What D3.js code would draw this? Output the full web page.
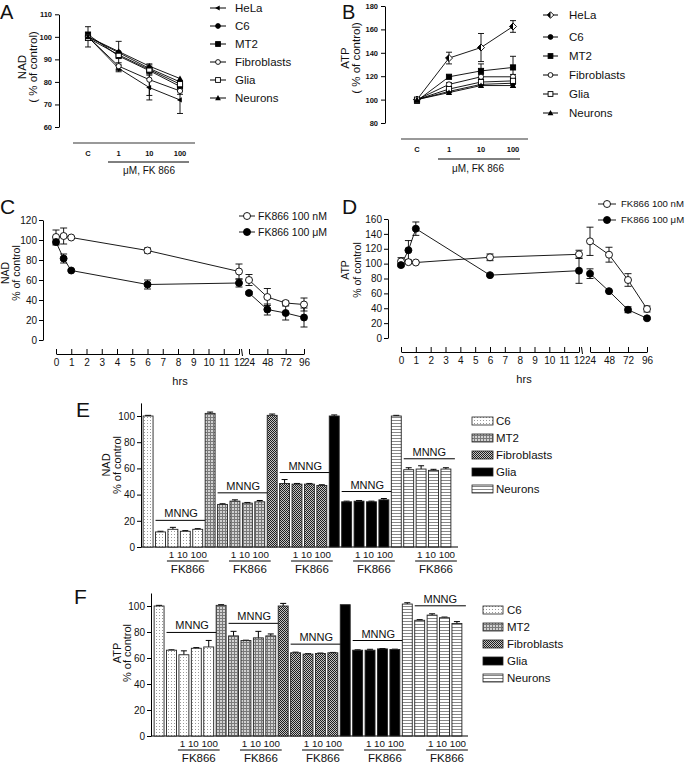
<!DOCTYPE html>
<html>
<head>
<meta charset="utf-8">
<script src="https://cdn.jsdelivr.net/npm/d3@7"></script>
<style>
body { margin: 0; background: #fff; }
text { font-family: "Liberation Sans", Arial, sans-serif; fill: #111; }
</style>
</head>
<body>
<svg id="fig" width="685" height="779"></svg>
<script>
// ---- data ----
const doseLabels = ["C", "1", "10", "100"];
const doseSeries = ["HeLa", "C6", "MT2", "Fibroblasts", "Glia", "Neurons"];
const nadDoseValues = [
    [100, 86, 77.5, 72],
    [100, 93, 86, 80],
    [101, 91.5, 85, 78],
    [100, 87, 81, 76],
    [99.5, 92, 85.5, 79],
    [100, 93.5, 87, 81.5]
];
const nadDoseErrors = [
    [4.5, 1.5, 5.5, 6],
    [1, 1, 1.5, 1],
    [1, 6.5, 1.5, 2],
    [1, 1.5, 7, 1.5],
    [1, 1, 1, 1],
    [1, 1, 1, 1]
];
const atpDoseValues = [
    [100, 135.5, 144.5, 162.5],
    [100, 107, 113, 114],
    [99, 119.5, 124.5, 127.5],
    [100, 113, 119.5, 119.5],
    [100, 109, 115, 116],
    [100, 106, 112, 112]
];
const atpDoseErrors = [
    [1, 5, 12, 5],
    [1, 1, 1, 1],
    [1, 1, 6, 9.5],
    [1, 1.5, 2, 2],
    [1, 1, 1, 1.5],
    [1, 1, 1, 1.5]
];
const nadDoseTicks = [60, 70, 80, 90, 100, 110];
const atpDoseTicks = [80, 100, 120, 140, 160, 180];

const timeHours = [0, 0.5, 1, 6, 12, 24, 48, 72, 96];
const timeTicksEarly = [0, 1, 2, 3, 4, 5, 6, 7, 8, 9, 10, 11, 12];
const timeTicksLate = [24, 48, 72, 96];
const timeSeries = ["FK866 100 nM", "FK866 100 μM"];
const nadTimeValues = [
    [103, 104, 102.5, 89.5, 68.5, 60, 43, 37, 35.5],
    [98, 81.5, 69.5, 55.5, 57, 47, 30.5, 27, 22.5]
];
const nadTimeErrors = [
    [7, 8, 1, 2.5, 7.5, 5.5, 8.5, 2, 6.5],
    [3, 4.5, 1, 4.5, 4, 1.5, 5.5, 7, 9.5]
];
const atpTimeValues = [
    [103, 102, 101.5, 108.5, 112.5, 130, 112, 78, 39],
    [98, 118, 147, 84.5, 90.5, 86.5, 63, 38, 26.5]
];
const atpTimeErrors = [
    [5, 1, 1, 4.5, 5.5, 19, 10, 8.5, 4],
    [2, 13, 9, 1.5, 17, 6.5, 1, 4, 1.5]
];
const nadTimeTicks = [0, 20, 40, 60, 80, 100, 120];
const atpTimeTicks = [0, 20, 40, 60, 80, 100, 120, 140, 160];

const barCells = ["C6", "MT2", "Fibroblasts", "Glia", "Neurons"];
const barDoseLabel = "1 10 100";
const nadBarValues = [
    [100, 11.5, 13.5, 12, 13.5],
    [102, 32.5, 35, 33.5, 34.5],
    [100.5, 48.5, 48, 48, 47],
    [100, 34.5, 35, 34.5, 36],
    [100, 59, 59.5, 58.5, 59.5]
];
const nadBarErrors = [
    [0.5, 0.5, 1.5, 0.5, 0.5],
    [1, 0.5, 1, 0.5, 1],
    [1, 3, 0.5, 0.5, 0.5],
    [0.8, 0.5, 0.5, 0.5, 1],
    [0.5, 1.5, 2.5, 0.8, 1]
];
const atpBarValues = [
    [100, 66, 62.5, 67.5, 68.5],
    [100.5, 77, 73.5, 75.5, 77],
    [100, 64, 63, 63.5, 64],
    [101, 66, 66, 67, 66.5],
    [101.5, 89, 93, 91, 86.5]
];
const atpBarErrors = [
    [0.5, 0.3, 3, 0.5, 5],
    [0.5, 3.5, 0.2, 5, 1.5],
    [2, 0.5, 0.3, 0.3, 0.3],
    [0, 0.3, 0.7, 0.3, 0.3],
    [1, 0.5, 1, 0.5, 1.5]
];
const barTicks = [0, 20, 40, 60, 80, 100];

// ---- setup ----
const svg = d3.select("#fig");
const defs = svg.append("defs");

function addPattern(id, w, h, bg, marks) {
    const p = defs.append("pattern").attr("id", id)
        .attr("patternUnits", "userSpaceOnUse")
        .attr("width", w).attr("height", h);
    p.append("rect").attr("width", w).attr("height", h).attr("fill", bg);
    marks.forEach(m => p.append("rect")
        .attr("x", m[0]).attr("y", m[1]).attr("width", m[2]).attr("height", m[3])
        .attr("fill", m[4]));
}
addPattern("pC6", 3, 3, "#fff", [[0, 0, 1, 1, "#9a9a9a"]]);
addPattern("pMT2", 3, 3, "#d2d2d2", [[0, 0, 3, 1, "#7a7a7a"], [0, 0, 1, 3, "#7a7a7a"]]);
addPattern("pFib", 2, 2, "#c4c4c4", [[0, 0, 1, 1, "#1e1e1e"], [1, 1, 1, 1, "#1e1e1e"]]);
addPattern("pNeu", 3, 3, "#fff", [[0, 0, 3, 1, "#888"]]);
const barFills = ["url(#pC6)", "url(#pMT2)", "url(#pFib)", "#000", "url(#pNeu)"];

function drawMarker(g, kind, cx, cy, s) {
    if (kind === "circle" || kind === "ocircle") {
        g.append("circle").attr("cx", cx).attr("cy", cy).attr("r", s)
            .attr("fill", kind === "circle" ? "#000" : "#fff")
            .attr("stroke", "#000").attr("stroke-width", 0.9);
    } else if (kind === "square" || kind === "osquare") {
        g.append("rect").attr("x", cx - s).attr("y", cy - s)
            .attr("width", 2 * s).attr("height", 2 * s)
            .attr("fill", kind === "square" ? "#000" : "#fff")
            .attr("stroke", "#000").attr("stroke-width", 0.9);
    } else if (kind === "triangle") {
        g.append("path")
            .attr("d", `M${cx},${cy - s * 1.2}L${cx + s * 1.2},${cy + s * 0.9}L${cx - s * 1.2},${cy + s * 0.9}Z`)
            .attr("fill", "#000");
    } else if (kind === "larrow") {
        g.append("path")
            .attr("d", `M${cx - s * 1.2},${cy}L${cx + s * 0.7},${cy - s}L${cx + s * 0.7},${cy + s}Z`)
            .attr("fill", "#000");
    } else if (kind === "hdiamond") {
        const d = s * 1.35;
        g.append("path").attr("d", `M${cx},${cy - d}L${cx + d},${cy}L${cx},${cy + d}L${cx - d},${cy}Z`)
            .attr("fill", "#fff").attr("stroke", "#000").attr("stroke-width", 0.9);
        g.append("path").attr("d", `M${cx},${cy - d}L${cx - d},${cy}L${cx},${cy + d}Z`)
            .attr("fill", "#000");
    }
}

function errBar(g, x, y1, y2, cap) {
    g.append("line").attr("x1", x).attr("x2", x).attr("y1", y1).attr("y2", y2)
        .attr("stroke", "#000").attr("stroke-width", 0.9);
    [y1, y2].forEach(yy => g.append("line")
        .attr("x1", x - cap).attr("x2", x + cap).attr("y1", yy).attr("y2", yy)
        .attr("stroke", "#000").attr("stroke-width", 0.9));
}

function yLabel(g, lab, t1, t2, size) {
    [[lab.x1, t1], [lab.x2, t2]].forEach(d => g.append("text")
        .attr("transform", `translate(${d[0]},${lab.cy}) rotate(-90)`)
        .attr("text-anchor", "middle").attr("dy", "0.35em")
        .attr("font-size", size).text(d[1]));
}

function letter(t, x, y, size) {
    svg.append("text").attr("x", x).attr("y", y).attr("font-size", size).text(t);
}

function styleAxis(a, size, bold) {
    a.attr("font-size", size);
    a.selectAll("path, line").attr("stroke", "#000").attr("stroke-width", 1);
    a.selectAll("text").attr("fill", "#111").attr("font-weight", bold ? "bold" : "normal");
}

// ---- panels A, B: dose response ----
function dosePanel(p) {
    const g = svg.append("g");
    const y = d3.scaleLinear().domain(p.yDomain).range(p.yRange);
    const x = d3.scalePoint().domain(doseLabels).range(p.xRange);

    const ya = g.append("g").attr("transform", `translate(${p.yAxisX},0)`)
        .call(d3.axisLeft(y).tickValues(p.yTicks).tickSize(4).tickSizeOuter(0).tickPadding(3));
    styleAxis(ya, 7.5, true);

    g.append("line").attr("x1", p.axisLine[0]).attr("x2", p.axisLine[1])
        .attr("y1", p.axisY).attr("y2", p.axisY)
        .attr("stroke", "#999").attr("stroke-width", 2);
    doseLabels.forEach(d => g.append("text").attr("x", x(d)).attr("y", p.axisY + 13)
        .attr("text-anchor", "middle").attr("font-size", 7.5).attr("font-weight", "bold").text(d));
    g.append("line").attr("x1", p.under[0]).attr("x2", p.under[1])
        .attr("y1", p.under[2]).attr("y2", p.under[2]).attr("stroke", "#000").attr("stroke-width", 1);
    g.append("text").attr("x", p.unit[0]).attr("y", p.unit[1]).attr("text-anchor", "middle")
        .attr("font-size", 10).text("μM, FK 866");

    const line = d3.line().x((v, i) => x(doseLabels[i])).y(v => y(v));
    p.values.forEach((vals, s) => {
        vals.forEach((v, i) => {
            const e = p.errors[s][i];
            if (e > 1.2) errBar(g, x(doseLabels[i]), y(v + e), y(v - e), 3);
        });
    });
    p.values.forEach(vals => g.append("path").attr("d", line(vals))
        .attr("fill", "none").attr("stroke", "#000").attr("stroke-width", 0.9));
    p.values.forEach((vals, s) => vals.forEach((v, i) =>
        drawMarker(g, p.marks[s], x(doseLabels[i]), y(v), 2.6)));

    // legend
    doseSeries.forEach((name, i) => {
        const ly = p.legend.y0 + i * p.legend.step + (i > 0 ? p.legend.shift : 0);
        g.append("line").attr("x1", p.legend.x0).attr("x2", p.legend.x1)
            .attr("y1", ly).attr("y2", ly).attr("stroke", "#000").attr("stroke-width", 1);
        drawMarker(g, p.marks[i], (p.legend.x0 + p.legend.x1) / 2, ly, 2.4);
        g.append("text").attr("x", p.legend.tx).attr("y", ly).attr("dy", "0.35em")
            .attr("font-size", 11.5).text(name);
    });
    yLabel(g, p.ylab, p.ylab.t1, "( % of control)", 11.5);
}

dosePanel({
    yDomain: [60, 110], yRange: [127, 14.3], yTicks: nadDoseTicks, yAxisX: 59,
    xRange: [88, 180], axisY: 143, axisLine: [73, 195], under: [108, 189, 162], unit: [149, 174],
    values: nadDoseValues, errors: nadDoseErrors,
    marks: ["larrow", "circle", "square", "ocircle", "osquare", "triangle"],
    legend: { x0: 210, x1: 226, tx: 235, y0: 8, step: 18, shift: 0 },
    ylab: { x1: 22, x2: 33, cy: 67, t1: "NAD" }
});
dosePanel({
    yDomain: [80, 180], yRange: [123, 6], yTicks: atpDoseTicks, yAxisX: 385,
    xRange: [417, 513], axisY: 139, axisLine: [401, 528], under: [438, 520, 159], unit: [478, 172],
    values: atpDoseValues, errors: atpDoseErrors,
    marks: ["hdiamond", "circle", "square", "ocircle", "osquare", "triangle"],
    legend: { x0: 543, x1: 558, tx: 569, y0: 15, step: 19, shift: 3 },
    ylab: { x1: 345, x2: 356, cy: 58, t1: "ATP" }
});
letter("A", 0, 19, 20);
letter("B", 342, 19, 20);

// ---- panels C, D: time course ----
function timePanel(p) {
    const g = svg.append("g");
    const y = d3.scaleLinear().domain([0, p.yMax]).range([p.y0, p.yTop]);
    const xe = d3.scaleLinear().domain([0, 12]).range([p.x0, p.x12]);
    const xl = d3.scaleLinear().domain([24, 96]).range([p.x24, p.x96]);
    const x = t => (t <= 12 ? xe(t) : xl(t));

    const ya = g.append("g").attr("transform", `translate(${p.yAxisX},0)`)
        .call(d3.axisLeft(y).tickValues(p.yTicks).tickSize(4).tickSizeOuter(0).tickPadding(2));
    styleAxis(ya, 10, false);

    const xa1 = g.append("g").attr("transform", `translate(0,${p.axisY})`)
        .call(d3.axisBottom(xe).tickValues(timeTicksEarly).tickSize(-5).tickSizeOuter(0).tickPadding(5));
    const xa2 = g.append("g").attr("transform", `translate(0,${p.axisY})`)
        .call(d3.axisBottom(xl).tickValues(timeTicksLate).tickSize(-5).tickSizeOuter(0).tickPadding(5));
    styleAxis(xa1, 10, false);
    styleAxis(xa2, 10, false);
    // break marks
    g.append("line").attr("x1", p.x12 + 2.5).attr("x2", p.x12 + 3.5)
        .attr("y1", p.axisY - 5).attr("y2", p.axisY + 2).attr("stroke", "#000");
    g.append("text").attr("x", (p.x0 + p.x96) / 2).attr("y", p.hrsY)
        .attr("text-anchor", "middle").attr("font-size", 11).text("hrs");

    const early = timeHours.map((t, i) => i).filter(i => timeHours[i] <= 12);
    const late = timeHours.map((t, i) => i).filter(i => timeHours[i] >= 24);
    p.values.forEach((vals, s) => {
        vals.forEach((v, i) => errBar(g, x(timeHours[i]), y(v + p.errors[s][i]), y(v - p.errors[s][i]), 3.5));
    });
    p.values.forEach(vals => {
        [early, late].forEach(idx => g.append("path")
            .attr("d", d3.line()(idx.map(i => [x(timeHours[i]), y(vals[i])])))
            .attr("fill", "none").attr("stroke", "#000").attr("stroke-width", 0.9));
    });
    const kinds = ["ocircle", "circle"];
    p.values.forEach((vals, s) => vals.forEach((v, i) =>
        drawMarker(g, kinds[s], x(timeHours[i]), y(v), 3.5)));

    timeSeries.forEach((name, i) => {
        const ly = p.legend.y[i];
        g.append("line").attr("x1", p.legend.x0).attr("x2", p.legend.x1)
            .attr("y1", ly).attr("y2", ly).attr("stroke", "#000").attr("stroke-width", 0.9);
        drawMarker(g, kinds[i], (p.legend.x0 + p.legend.x1) / 2, ly, 3.5);
        g.append("text").attr("x", p.legend.tx).attr("y", ly).attr("dy", "0.35em")
            .attr("font-size", p.legend.size).text(name);
    });
    yLabel(g, p.ylab, p.ylab.t1, "% of control", 10.5);
}

timePanel({
    yMax: 120, y0: 340, yTop: 220, yTicks: nadTimeTicks, yAxisX: 43,
    x0: 56, x12: 239, x24: 249, x96: 304, axisY: 354, hrsY: 385,
    values: nadTimeValues, errors: nadTimeErrors,
    legend: { x0: 239, x1: 255, tx: 258, y: [216, 232], size: 10.5 },
    ylab: { x1: 5, x2: 16, cy: 273, t1: "NAD" }
});
timePanel({
    yMax: 160, y0: 338, yTop: 219, yTicks: atpTimeTicks, yAxisX: 388,
    x0: 401, x12: 579, x24: 590, x96: 647, axisY: 352, hrsY: 383,
    values: atpTimeValues, errors: atpTimeErrors,
    legend: { x0: 598, x1: 616, tx: 621, y: [204, 220], size: 9.6 },
    ylab: { x1: 345, x2: 357, cy: 270, t1: "ATP" }
});
letter("C", 0, 214, 21);
letter("D", 342, 214, 21);

// ---- panels E, F: bars ----
function barPanel(p) {
    const g = svg.append("g");
    const n = barCells.length * 5;
    const x = d3.scaleBand().domain(d3.range(n)).range(p.xRange).paddingInner(0.2).paddingOuter(0.09);
    const bw = x.bandwidth();
    const y = d3.scaleLinear().domain([0, 110]).range([p.y0, p.y0 - 110 * p.k]);

    const ya = g.append("g").attr("transform", `translate(${p.axisX},0)`)
        .call(d3.axisLeft(y).tickValues(barTicks).tickSize(4).tickSizeOuter(0).tickPadding(2));
    styleAxis(ya, 10, false);
    g.append("line").attr("x1", p.axisX).attr("x2", p.baseEnd)
        .attr("y1", p.y0).attr("y2", p.y0).attr("stroke", "#000").attr("stroke-width", 1.2);

    p.values.forEach((vals, c) => {
        vals.forEach((v, j) => {
            const i = c * 5 + j;
            const e = p.errors[c][j];
            if (e > 0) {
                g.append("line").attr("x1", x(i) + bw / 2).attr("x2", x(i) + bw / 2)
                    .attr("y1", y(v)).attr("y2", y(v + e)).attr("stroke", "#000");
                g.append("line").attr("x1", x(i) + bw / 2 - 3).attr("x2", x(i) + bw / 2 + 3)
                    .attr("y1", y(v + e)).attr("y2", y(v + e)).attr("stroke", "#000");
            }
            g.append("rect").attr("x", x(i)).attr("y", y(v))
                .attr("width", bw).attr("height", p.y0 - y(v))
                .attr("fill", barFills[c]).attr("stroke", "#222").attr("stroke-width", 0.9);
        });
        // MNNG bracket
        const top = d3.max(vals.slice(1).map((v, j) => v + p.errors[c][j + 1]));
        const ly = y(top) - p.gap;
        const lx0 = x(c * 5 + 1), lx1 = x(c * 5 + 4) + bw + 4;
        g.append("line").attr("x1", lx0).attr("x2", lx1).attr("y1", ly).attr("y2", ly)
            .attr("stroke", "#000").attr("stroke-width", 1);
        g.append("text").attr("x", (lx0 + lx1) / 2).attr("y", ly - 3)
            .attr("text-anchor", "middle").attr("font-size", 11).text("MNNG");
        // FK866 doses
        const ux0 = x(c * 5 + 2) - 1, ux1 = x(c * 5 + 4) + bw + 6;
        g.append("text").attr("x", (ux0 + ux1) / 2).attr("y", p.y0 + 10.5)
            .attr("text-anchor", "middle").attr("font-size", 9.8).text(barDoseLabel);
        g.append("line").attr("x1", ux0).attr("x2", ux1).attr("y1", p.y0 + 14).attr("y2", p.y0 + 14)
            .attr("stroke", "#000").attr("stroke-width", 1);
        g.append("text").attr("x", (ux0 + ux1) / 2).attr("y", p.y0 + 26)
            .attr("text-anchor", "middle").attr("font-size", 11.5).text("FK866");
    });

    barCells.forEach((name, c) => {
        const ly = p.legend.y0 + c * p.legend.step;
        g.append("rect").attr("x", p.legend.x).attr("y", ly - 4)
            .attr("width", p.legend.w).attr("height", 8)
            .attr("fill", barFills[c]).attr("stroke", "#222").attr("stroke-width", 0.8);
        g.append("text").attr("x", p.legend.tx).attr("y", ly).attr("dy", "0.35em")
            .attr("font-size", 11.5).text(name);
    });
    yLabel(g, p.ylab, p.ylab.t1, "% of control", 11);
}

barPanel({
    xRange: [142, 452], y0: 547, k: 1.31, axisX: 141, baseEnd: 458, gap: 7,
    values: nadBarValues, errors: nadBarErrors,
    legend: { x: 472, w: 21, tx: 496, y0: 421, step: 17 },
    ylab: { x1: 106, x2: 117, cy: 465, t1: "NAD" }
});
barPanel({
    xRange: [153, 463], y0: 736, k: 1.3, axisX: 151, baseEnd: 468, gap: 8,
    values: atpBarValues, errors: atpBarErrors,
    legend: { x: 483, w: 20, tx: 507, y0: 610, step: 17 },
    ylab: { x1: 117, x2: 127, cy: 653, t1: "ATP" }
});
letter("E", 76, 417, 21);
letter("F", 74, 604, 21);
</script>
</body>
</html>
